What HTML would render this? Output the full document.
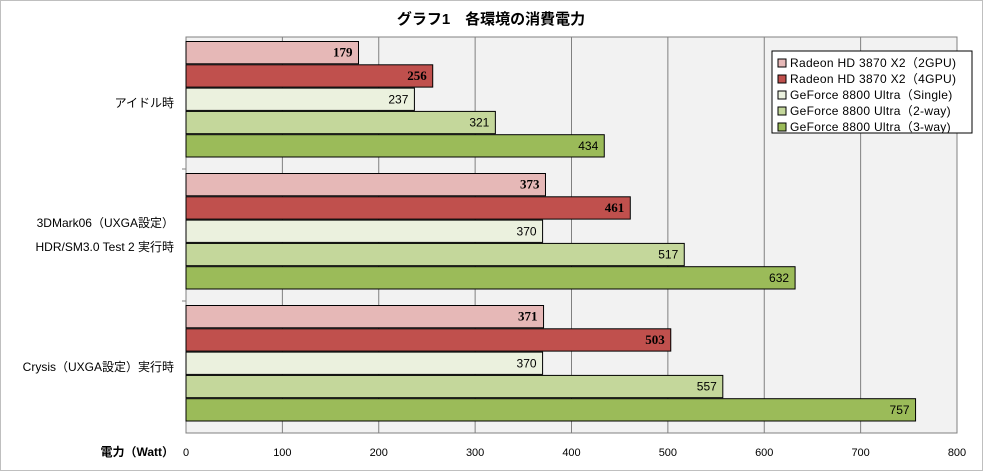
<!DOCTYPE html>
<html><head><meta charset="utf-8"><style>
body{margin:0;background:#fff;}
svg text{font-family:"Liberation Sans","Noto Sans CJK JP",sans-serif;}
</style></head><body>
<svg id="chart" width="983" height="471" xmlns="http://www.w3.org/2000/svg">
<rect x="0.5" y="0.5" width="982" height="470" fill="#fff" stroke="#bfbfbf"/>
<text x="491" y="24" text-anchor="middle" font-size="15" font-weight="bold">グラフ1　各環境の消費電力</text>
<rect x="186" y="37" width="771" height="396" fill="#f2f2f2" stroke="#808080"/>
<g id="grid"></g><g id="bars"></g><g id="labels"></g>
<text x="174" y="456" text-anchor="end" font-size="12" font-weight="bold">電力（Watt）</text>
<g id="legend">
<rect x="772" y="51" width="200" height="82" fill="#fff" stroke="#000"/>
</g>
</svg>
<script>
const categories=["アイドル時","3DMark06（UXGA設定）\nHDR/SM3.0 Test 2 実行時","Crysis（UXGA設定）実行時"];
const seriesNames=["Radeon HD 3870  X2（2GPU)","Radeon HD 3870  X2（4GPU)","GeForce 8800  Ultra（Single)","GeForce 8800  Ultra（2-way)","GeForce 8800  Ultra（3-way)"];
const s1=[179,373,371];
const s2=[256,461,503];
const s3=[237,370,370];
const s4=[321,517,557];
const s5=[434,632,757];
const ticks=[0,100,200,300,400,500,600,700,800];
const series=[s1,s2,s3,s4,s5];
const colors=["#e6b8b7","#c0504d","#ebf1de","#c4d79b","#9bbb59"];
const bold=[true,true,false,false,false];
const NS="http://www.w3.org/2000/svg";
const X0=186,X1=957,Y0=37,Y1=433;
const xs=v=>X0+(v/800)*(X1-X0);
const gh=(Y1-Y0)/categories.length;
function mk(t,a,p){const e=document.createElementNS(NS,t);for(const k in a)e.setAttribute(k,a[k]);p.appendChild(e);return e;}
const grid=document.getElementById('grid'),bars=document.getElementById('bars'),labels=document.getElementById('labels');
ticks.forEach(t=>{
 if(t>0&&t<800){const l=mk('line',{x1:xs(t),x2:xs(t),y1:Y0,y2:Y1,stroke:'#808080'},grid);
 
 }
 const tx=mk('text',{x:xs(t),y:456,'text-anchor':'middle','font-size':11},labels);tx.textContent=t;
 
 
});
categories.forEach((c,i)=>{
 const gy=Y0+i*gh;
 if(i>0){const tk=mk('line',{x1:X0-4,x2:X0,y1:gy,y2:gy,stroke:'#808080'},grid);
 
 }
 const lines=c.split('\n');
 lines.forEach((ln,j)=>{const t=mk('text',{x:174,y:gy+gh/2+4+(j-(lines.length-1)/2)*24,'text-anchor':'end','font-size':12},labels);t.textContent=ln;
 
 });
 const bh=23.3, start=gy+4.5;
 series.forEach((s,k)=>{
  const y=start+k*bh;
  const r=mk('rect',{x:X0,y:y,width:xs(s[i])-X0,height:bh-1,fill:colors[k],stroke:'#000','stroke-width':1},bars);
  
  
  const t=mk('text',{x:xs(s[i])-6,y:y+bh/2+3.5,'text-anchor':'end','font-size':bold[k]?13:12,'font-weight':bold[k]?'bold':'normal'},labels);
  if(bold[k]) t.style.fontFamily='"Liberation Serif",serif';
  t.textContent=s[i];
  
  
 });
});
const lg=document.getElementById('legend');
seriesNames.forEach((n,k)=>{
 const y=57+k*16;
 const r=mk('rect',{x:778,y:y+2,width:8,height:8,fill:colors[k],stroke:'#000'},lg);
 
 
 const t=mk('text',{x:790,y:y+10,'font-size':12,'letter-spacing':'0.3'},lg);t.textContent=n;
 
 
});
</script>
</body></html>
